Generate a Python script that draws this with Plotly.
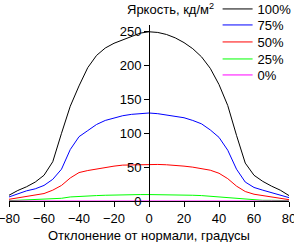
import plotly.graph_objects as go

angles = list(range(-80, 81, 5))

lum_100 = [8.5, 15.5, 21, 28, 38, 58, 100, 140, 170, 197, 215, 226, 233, 238, 243, 248, 250,
           249, 246, 241, 234, 225, 213, 196, 172, 141, 97, 56, 38, 29, 22, 16, 8]
lum_75 = [6, 11, 15, 18, 23, 32, 47, 76, 95, 104, 113, 119, 123, 126, 128, 129, 130,
          129, 127, 125.5, 123, 119, 114, 105, 94, 75, 47, 28, 20, 16, 12, 8.5, 5]
lum_50 = [2.5, 4.5, 6.5, 9, 11, 16, 23, 34, 42, 45, 47.5, 49.5, 51.5, 53, 53.5, 54, 54,
          54, 53.5, 53, 51.5, 50, 48, 45.5, 41, 33, 22, 14, 10, 8, 6.5, 4.5, 2]
lum_25 = [0.5, 1, 1.2, 1.5, 2, 2.5, 4, 6, 7, 7.5, 8, 8.5, 9, 9.5, 9.5, 9.5, 9.5,
          9.5, 9.5, 9.5, 9, 8.5, 8, 7, 6, 5, 3, 2, 1.5, 1, 1, 0.5, 0.5]
lum_0 = [0] * 33

series_names = ["100%", "75%", "50%", "25%", "0%"]
series_values = [lum_100, lum_75, lum_50, lum_25, lum_0]
series_colors = ["#000000", "#0000ff", "#ff0000", "#00ff00", "#ff00ff"]

x_ticks = [-80, -60, -40, -20, 0, 20, 40, 60, 80]
y_ticks = [0, 50, 100, 150, 200, 250]

FONT = "Arial, Liberation Sans, sans-serif"

# legend row centres (paper y); one single-entry legend per series
legend_rows = [1.0909, 1.0, 0.9034, 0.8068, 0.7159]
legend_ids = ["legend", "legend2", "legend3", "legend4", "legend5"]

fig = go.Figure()
for name, vals, col, lid in zip(series_names, series_values, series_colors, legend_ids):
    fig.add_trace(go.Scatter(x=angles, y=vals, mode="lines", name=name,
                             line=dict(color=col, width=1), legend=lid))

legend_style = dict(x=0.745, xanchor="left", yanchor="middle",
                    bgcolor="rgba(0,0,0,0)", borderwidth=0,
                    font=dict(family=FONT, size=13, color="black"))
legend_layout = {lid: dict(legend_style, y=ly) for lid, ly in zip(legend_ids, legend_rows)}

fig.update_layout(
    width=294, height=242,
    margin=dict(l=9, r=5, t=25, b=41, autoexpand=False),
    paper_bgcolor="white", plot_bgcolor="white",
    font=dict(family=FONT, size=13, color="black"),
    showlegend=True,
    xaxis=dict(range=[-80, 80], tickvals=x_ticks, ticks="outside", ticklen=5,
               tickcolor="black", showline=True, linecolor="black", linewidth=1,
               showgrid=False, zeroline=False, tickfont=dict(size=13),
               ticklabeloverflow="allow"),
    yaxis=dict(range=[0, 260], tickvals=y_ticks, ticks="outside", ticklen=5,
               tickcolor="black", showline=True, linecolor="black", linewidth=1,
               showgrid=False, zeroline=False, anchor="free", position=0.5,
               side="left", tickfont=dict(size=13)),
    annotations=[
        dict(text="Яркость, кд/м<sup>2</sup>", xref="paper", yref="paper",
             x=0.415, y=1.0, xanchor="left", yanchor="bottom", showarrow=False,
             yshift=6, font=dict(size=13)),
        dict(text="Отклонение от нормали, градусы", xref="paper", yref="paper",
             x=0.5, y=0, xanchor="center", yanchor="middle", showarrow=False,
             yshift=-34, font=dict(size=13)),
    ],
    **legend_layout,
)

fig.write_html("out.html")
